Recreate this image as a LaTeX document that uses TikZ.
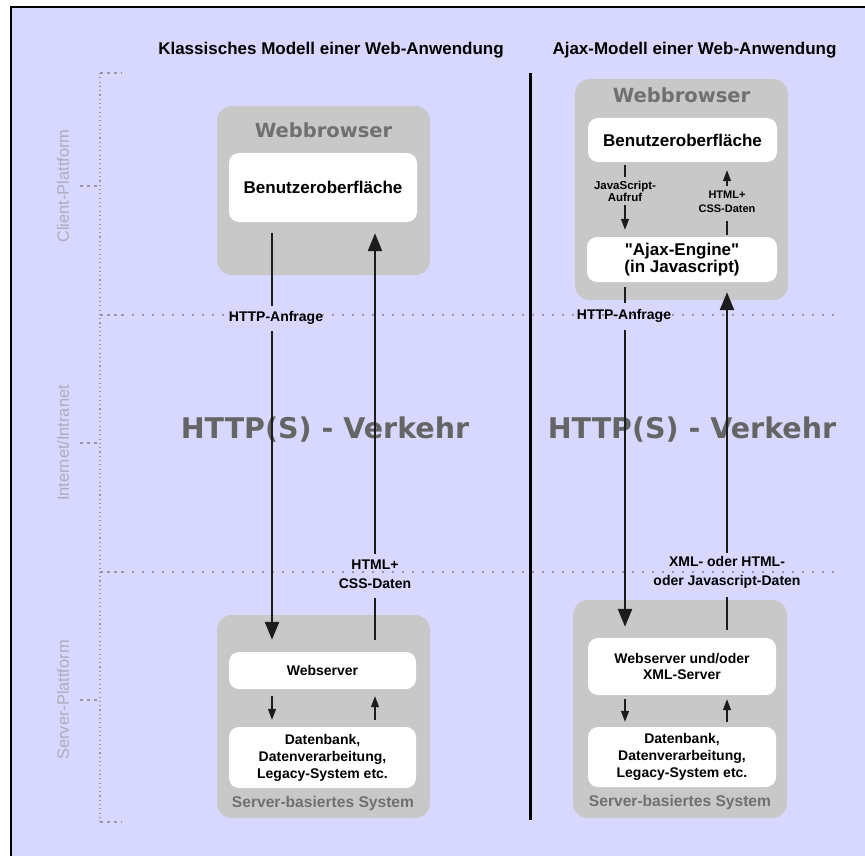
\documentclass[tikz,border=0pt]{standalone}
\usepackage{fontspec}
\setmainfont{Liberation Sans}[Ligatures=TeXOff]
\newfontfamily\djv{DejaVu Sans}
\usetikzlibrary{arrows.meta}

\definecolor{bgcol}{RGB}{216,216,255}
\definecolor{boxgray}{RGB}{200,200,200}
\definecolor{txtgray}{RGB}{112,112,112}
\definecolor{lanegray}{RGB}{172,172,188}
\definecolor{dotgray}{RGB}{150,150,165}
\definecolor{linecol}{RGB}{28,28,28}

\tikzset{
  graybox/.style={fill=boxgray, rounded corners=15pt, inner sep=0pt},
  whitebox/.style={fill=white, rounded corners=10pt, inner sep=0pt, align=center,
                   font=\bfseries\fontsize{14}{17}\selectfont},
  lbl/.style={font=\bfseries\fontsize{14}{18.5}\selectfont, align=center, inner sep=2pt},
  tinylbl/.style={font=\bfseries\fontsize{11}{13}\selectfont, align=center, inner sep=1pt},
  boxtitle/.style={font=\djv\bfseries\fontsize{19.5}{20}\selectfont, text=txtgray},
  boxfoot/.style={font=\bfseries\fontsize{15.6}{17}\selectfont, text=txtgray},
  traffic/.style={font=\djv\bfseries\fontsize{28.5}{30}\selectfont, text=txtgray!90!black},
  lane/.style={font=\fontsize{16.4}{18}\selectfont, text=lanegray, rotate=90},
  headline/.style={font=\bfseries\fontsize{17}{19}\selectfont},
  mainline/.style={line width=2.5pt, draw=linecol},
  mainarrow/.style={mainline, -{Triangle[length=18pt,width=14pt]}},
  smallline/.style={line width=1.3pt, draw=linecol},
  smallarrow/.style={smallline, -{Triangle[length=11pt,width=8pt]}},
  axisdot/.style={draw=dotgray, line width=1.1pt, dash pattern=on 1.1pt off 3.2pt},
  zonedot/.style={draw=dotgray, line width=1.6pt, dash pattern=on 1.6pt off 8.4pt},
  tickdash/.style={draw=dotgray, line width=1.1pt, dash pattern=on 3pt off 4pt},
}

\begin{document}
\begin{tikzpicture}[x=1pt, y=-1pt]
  % page, frame and background
  \fill[white] (0,0) rectangle (865,856);
  \useasboundingbox (0,0) rectangle (865,856);
  \fill[bgcol] (11,7) rectangle (865,856);
  \draw[black, line width=2pt] (11,856) -- (11,7) -- (865,7);

  % column positions of the vertical connectors
  \coordinate (cA) at (272,0);
  \coordinate (cB) at (375,0);
  \coordinate (cC) at (625,0);
  \coordinate (cD) at (727,0);

  % headings
  \node[headline] (h1) at (331,50) {Klassisches Modell einer Web-Anwendung};
  \node[headline] (h2) at (694.5,50) {Ajax-Modell einer Web-Anwendung};

  % platform axis
  \draw[axisdot] (100,73) -- (100,822);
  \draw[tickdash] (100,73) -- (122,73);
  \draw[tickdash] (80,186) -- (100,186);
  \draw[tickdash] (100,315) -- (122,315);
  \draw[tickdash] (80,443) -- (100,443);
  \draw[tickdash] (100,572) -- (122,572);
  \draw[tickdash] (80,700) -- (100,700);
  \draw[tickdash] (100,822) -- (122,822);
  \draw[zonedot] (122,315) -- (835,315);
  \draw[zonedot] (122,572) -- (835,572);
  \node[lane] (p1) at (63,186) {Client-Plattform};
  \node[lane] (p2) at (63,443) {Internet/Intranet};
  \node[lane] (p3) at (63,700) {Server-Plattform};

  % separator between the two models
  \draw[black, line width=3pt] (530,73) -- (530,820);

  % classic model: browser and server
  \node[graybox, minimum width=213pt, minimum height=169pt] (wb1) at (323.5,190.5) {};
  \node[boxtitle] (wt1) at (323.5,130) {Webbrowser};
  \node[whitebox, minimum width=188pt, minimum height=69pt, font=\bfseries\fontsize{17}{16}\selectfont]
       (ui1) at (323,187.5) {Benutzeroberfläche};
  \node[graybox, minimum width=213pt, minimum height=203pt] (srv1) at (323.5,716.5) {};
  \node[whitebox, minimum width=187pt, minimum height=37pt] (ws1) at (322.5,670.5) {Webserver};
  \node[whitebox, minimum width=187pt, minimum height=61pt] (db1) at (322.5,757.5)
       {Datenbank,\\Datenverarbeitung,\\Legacy-System etc.};
  \node[boxfoot] (sf1) at (323,803) {Server-basiertes System};

  % Ajax model: browser and server
  \node[graybox, minimum width=213pt, minimum height=221pt] (wb2) at (681.5,189.5) {};
  \node[boxtitle] (wt2) at (681.5,95) {Webbrowser};
  \node[whitebox, minimum width=189pt, minimum height=44pt, font=\bfseries\fontsize{17}{16}\selectfont]
       (ui2) at (682.5,140) {Benutzeroberfläche};
  \node[whitebox, minimum width=190pt, minimum height=45pt, font=\bfseries\fontsize{17}{15.5}\selectfont]
       (aj2) at (682,259.5) {"Ajax-Engine"\\(in Javascript)};
  \node[graybox, minimum width=214pt, minimum height=218pt] (srv2) at (680,709) {};
  \node[whitebox, minimum width=188pt, minimum height=57pt, font=\bfseries\fontsize{14}{16}\selectfont]
       (ws2) at (682,666.5) {Webserver und/oder\\XML-Server};
  \node[whitebox, minimum width=188pt, minimum height=60pt] (db2) at (682,757)
       {Datenbank,\\Datenverarbeitung,\\Legacy-System etc.};
  \node[boxfoot] (sf2) at (680,802) {Server-basiertes System};

  % network traffic captions
  \node[traffic] (t1) at (325,430) {HTTP(S) - Verkehr};
  \node[traffic] (t2) at (692,430) {HTTP(S) - Verkehr};

  % connector labels
  \node[lbl] (req1) at (276,318) {HTTP-Anfrage};
  \node[lbl] (css1) at (375,574) {HTML+\\CSS-Daten};
  \node[lbl] (req2) at (624,316) {HTTP-Anfrage};
  \node[lbl] (xml2) at (727,572.5) {XML- oder HTML-\\oder Javascript-Daten};
  \node[tinylbl, font=\bfseries\fontsize{11.5}{12}\selectfont] (js2) at (625,191) {JavaScript-\\Aufruf};
  \node[tinylbl, font=\bfseries\fontsize{11}{14}\selectfont] (hc2) at (727,202) {HTML+\\CSS-Daten};

  % classic model connectors
  \draw[mainline, shorten <=11pt, shorten >=3pt] (cA |- ui1.south) -- (cA |- req1.north);
  \draw[mainarrow, shorten <=4pt, shorten >=12pt] (cA |- req1.south) -- (cA |- ws1.north);
  \draw[mainline, shorten <=12pt, shorten >=8pt] (cB |- ws1.north) -- (cB |- css1.south);
  \draw[mainarrow, shorten <=4pt, shorten >=11pt] (cB |- css1.north) -- (cB |- ui1.south);
  \draw[smallarrow, shorten <=7pt, shorten >=7pt] (cA |- ws1.south) -- (cA |- db1.north);
  \draw[smallarrow, shorten <=7pt, shorten >=7pt] (cB |- db1.north) -- (cB |- ws1.south);

  % Ajax model connectors
  \draw[smallline, shorten <=3pt, shorten >=3pt] (cC |- ui2.south) -- (cC |- js2.north);
  \draw[smallarrow, shorten <=3pt, shorten >=7pt] (cC |- js2.south) -- (cC |- aj2.north);
  \draw[smallline, shorten <=2pt, shorten >=7pt] (cD |- aj2.north) -- (cD |- hc2.south);
  \draw[smallarrow, shorten <=4pt, shorten >=8pt] (cD |- hc2.north) -- (cD |- ui2.south);
  \draw[mainline, shorten <=5pt, shorten >=4pt] (cC |- aj2.south) -- (cC |- req2.north);
  \draw[mainarrow, shorten <=5pt, shorten >=11pt] (cC |- req2.south) -- (cC |- ws2.north);
  \draw[mainline, shorten <=8pt, shorten >=7pt] (cD |- ws2.north) -- (cD |- xml2.south);
  \draw[mainarrow, shorten <=2pt, shorten >=10pt] (cD |- xml2.north) -- (cD |- aj2.south);
  \draw[smallarrow, shorten <=4pt, shorten >=5pt] (cC |- ws2.south) -- (cC |- db2.north);
  \draw[smallarrow, shorten <=5pt, shorten >=4pt] (cD |- db2.north) -- (cD |- ws2.south);
\end{tikzpicture}
\end{document}
